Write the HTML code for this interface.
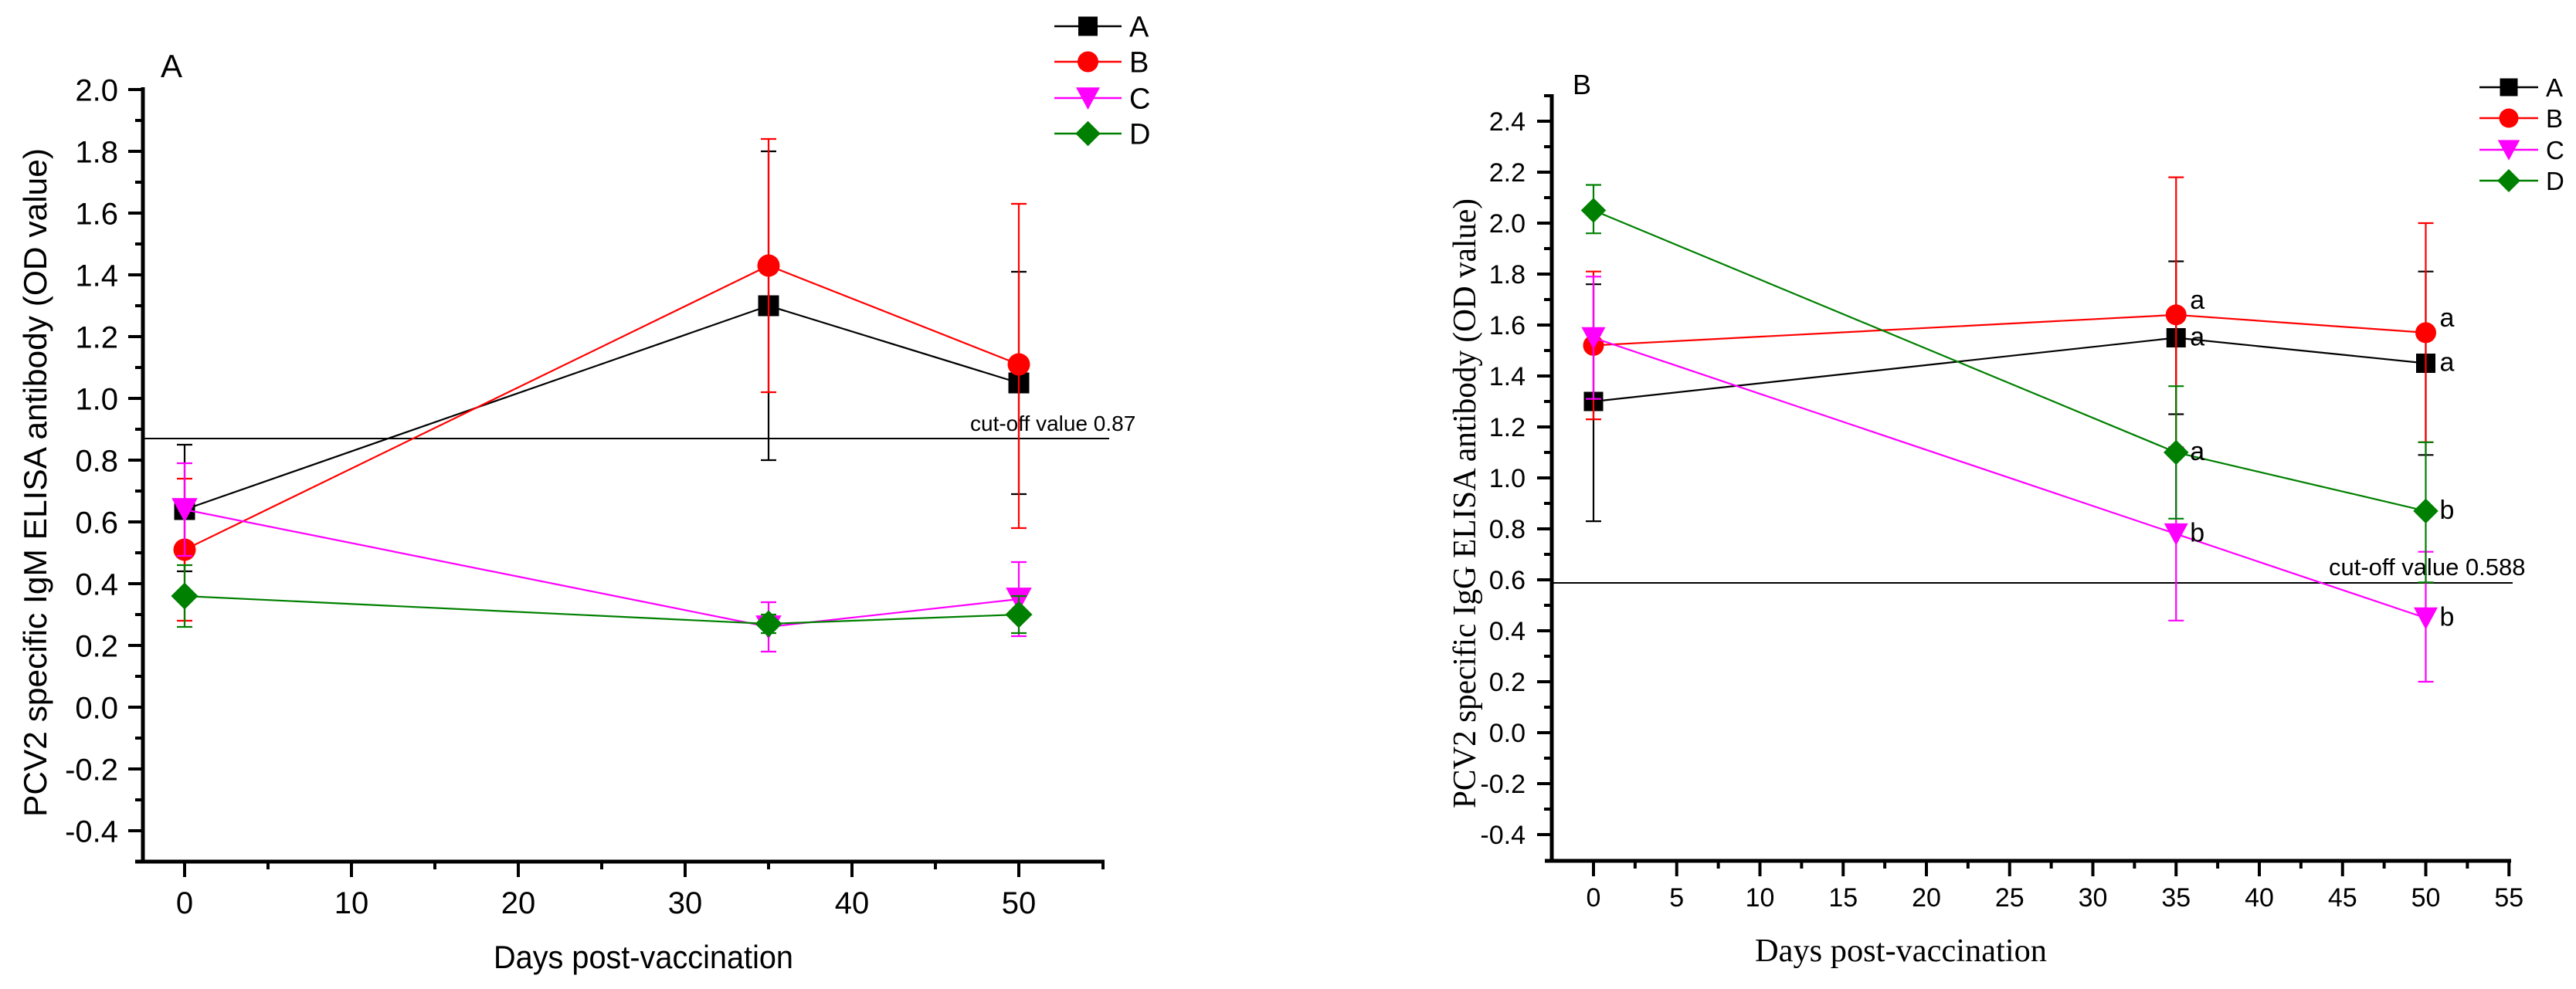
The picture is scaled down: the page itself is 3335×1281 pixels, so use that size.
<!DOCTYPE html>
<html><head><meta charset="utf-8"><style>
html,body{margin:0;padding:0;background:#fff;}
svg{display:block;}
</style></head><body>
<svg id="fig" width="3335" height="1281" viewBox="0 0 3335 1281" xmlns="http://www.w3.org/2000/svg">
<rect width="3335" height="1281" fill="#fff"/>
</svg>
<script>
// ---------- data ----------
const days = [0, 35, 50];
const groups = ["A", "B", "C", "D"];
const igmMean = [[0.64, 1.30, 1.05],[0.51, 1.43, 1.11],[0.64, 0.26, 0.35],[0.36, 0.27, 0.30]];
const igmHi   = [[0.85, 1.80, 1.41],[0.74, 1.84, 1.63],[0.79, 0.34, 0.47],[0.46, 0.30, 0.36]];
const igmLo   = [[0.44, 0.80, 0.69],[0.28, 1.02, 0.58],[0.49, 0.18, 0.23],[0.26, 0.24, 0.24]];
const iggMean = [[1.30, 1.55, 1.45],[1.52, 1.64, 1.57],[1.55, 0.78, 0.45],[2.05, 1.10, 0.87]];
const iggHi   = [[1.76, 1.85, 1.81],[1.81, 2.18, 2.00],[1.79, 1.12, 0.71],[2.15, 1.36, 1.14]];
const iggLo   = [[0.83, 1.25, 1.09],[1.23, 1.12, 1.14],[1.31, 0.44, 0.20],[1.96, 0.84, 0.59]];
const iggLetters = [["", "a", "a"],["", "a", "a"],["", "b", "b"],["", "a", "b"]];
const igmYTicks = ["2.0","1.8","1.6","1.4","1.2","1.0","0.8","0.6","0.4","0.2","0.0","-0.2","-0.4"];
const iggYTicks = ["2.4","2.2","2.0","1.8","1.6","1.4","1.2","1.0","0.8","0.6","0.4","0.2","0.0","-0.2","-0.4"];
const igmXTicks = [0, 10, 20, 30, 40, 50];
const iggXTicks = [0, 5, 10, 15, 20, 25, 30, 35, 40, 45, 50, 55];
const igmCutoff = 0.87;
const iggCutoff = 0.588;

const colors = ["#000000", "#ff0000", "#ff00ff", "#008000"];
const NS = "http://www.w3.org/2000/svg";
const svg = document.getElementById("fig");

function el(tag, attrs, parent) {
  const e = document.createElementNS(NS, tag);
  for (const k in attrs) e.setAttribute(k, attrs[k]);
  (parent || svg).appendChild(e);
  return e;
}
function marker(g, k, cx, cy, s) {
  let m;
  if (k === 0) m = el("rect", {x: cx - s/2, y: cy - s/2, width: s, height: s, fill: colors[0]}, g);
  else if (k === 1) m = el("circle", {cx: cx, cy: cy, r: s/2 + 1, fill: colors[1]}, g);
  else if (k === 2) m = el("polygon", {points: `${cx - s*0.62},${cy - s*0.55} ${cx + s*0.62},${cy - s*0.55} ${cx},${cy + s*0.6}`, fill: colors[2]}, g);
  else m = el("polygon", {points: `${cx},${cy - s*0.65} ${cx + s*0.65},${cy} ${cx},${cy + s*0.65} ${cx - s*0.65},${cy}`, fill: colors[3]}, g);
  return m;
}

function panel(cfg) {
  const g = el("g", {});
  
  
  const X = v => cfg.x0 + v * cfg.xPer;
  const Y = v => cfg.yBase - (v - cfg.yMin) / 0.2 * cfg.yStep;
  const yAxis = el("line", {x1: cfg.axX, y1: cfg.yTop, x2: cfg.axX, y2: cfg.axY + 2, stroke: "#000", "stroke-width": 5}, g);
  
  
  const xAxis = el("line", {x1: cfg.xStart, y1: cfg.axY, x2: cfg.xEnd + 2, y2: cfg.axY, stroke: "#000", "stroke-width": 5}, g);
  
  
  cfg.yTicks.forEach((t, i) => {
    const v = parseFloat(t);
    const y = Y(v);
    el("line", {x1: cfg.axX - 19, y1: y, x2: cfg.axX, y2: y, stroke: "#000", "stroke-width": 4}, g);
    const lab = el("text", {x: cfg.yLabX, y: y + cfg.yFont * 0.36, "text-anchor": "end", "font-size": cfg.yFont, "font-family": cfg.tickFam}, g);
    lab.textContent = t;
    
    
    if (i < cfg.yTicks.length - 1) {
      const ym = Y(v - 0.1);
      el("line", {x1: cfg.axX - 10, y1: ym, x2: cfg.axX, y2: ym, stroke: "#000", "stroke-width": 4}, g);
    }
  });
  if (cfg.yTopMinor) {
    const ym = Y(parseFloat(cfg.yTicks[0]) + 0.1);
    el("line", {x1: cfg.axX - 10, y1: ym, x2: cfg.axX, y2: ym, stroke: "#000", "stroke-width": 4}, g);
  }
  cfg.xTicks.forEach(t => {
    const x = X(t);
    el("line", {x1: x, y1: cfg.axY, x2: x, y2: cfg.axY + 20, stroke: "#000", "stroke-width": 4}, g);
    const lab = el("text", {x: x, y: cfg.xLabY, "text-anchor": "middle", "font-size": cfg.xFont, "font-family": cfg.tickFam}, g);
    lab.textContent = t;
    
    
  });
  cfg.xMinor.forEach(t => {
    const x = X(t);
    el("line", {x1: x, y1: cfg.axY, x2: x, y2: cfg.axY + 10, stroke: "#000", "stroke-width": 4}, g);
  });
  if (cfg.xEndTick) el("line", {x1: cfg.xEnd, y1: cfg.axY, x2: cfg.xEnd, y2: cfg.axY + 10, stroke: "#000", "stroke-width": 4}, g);
  const cy = Y(cfg.cutoff);
  const cl = el("line", {x1: cfg.axX, y1: cy, x2: cfg.cutEnd, y2: cy, stroke: "#000", "stroke-width": 2}, g);
  
  
  const ct = el("text", {x: cfg.cutLabX, y: cy - 10, "font-size": cfg.cutFont, "font-family": cfg.tickFam}, g);
  ct.textContent = "cut-off value " + cfg.cutoff;
  
  
  groups.forEach((gname, k) => {
    const sg = el("g", {}, g);
    
    
    const pts = days.map((d, i) => X(d) + "," + Y(cfg.mean[k][i])).join(" ");
    el("polyline", {points: pts, fill: "none", stroke: colors[k], "stroke-width": 2.2}, sg);
    days.forEach((d, i) => {
      const x = X(d);
      const yh = Y(cfg.hi[k][i]), yl = Y(cfg.lo[k][i]);
      const eb = el("path", {d: `M${x},${yh}V${yl}M${x-10},${yh}H${x+10}M${x-10},${yl}H${x+10}`, stroke: colors[k], "stroke-width": 2.2, fill: "none"}, sg);
      
      
    });
    days.forEach((d, i) => {
      const m = marker(sg, k, X(d), Y(cfg.mean[k][i]), cfg.ms);
      
      
      if (cfg.letters && cfg.letters[k][i]) {
        const lt = el("text", {x: X(d) + 18, y: Y(cfg.mean[k][i]) + (k === 1 ? -18 : 0) + 10, "font-size": 34, "font-family": cfg.tickFam}, sg);
        lt.textContent = cfg.letters[k][i];
        
        
      }
    });
  });
  const lg = el("g", {}, g);
  
  
  groups.forEach((gname, k) => {
    const y = cfg.legY[k];
    const eg = el("g", {}, lg);
    
    
    el("line", {x1: cfg.legX1, y1: y, x2: cfg.legX2, y2: y, stroke: colors[k], "stroke-width": 2.5}, eg);
    marker(eg, k, (cfg.legX1 + cfg.legX2) / 2, y, cfg.ms - 2);
    const t = el("text", {x: cfg.legX2 + 10, y: y + cfg.legFont * 0.36, "font-size": cfg.legFont, "font-family": cfg.tickFam}, eg);
    t.textContent = gname;
  });
  const pl = el("text", {x: cfg.plX, y: cfg.plY, "font-size": cfg.plFont, "font-family": "Liberation Sans, sans-serif"}, g);
  pl.textContent = cfg.panelLabel;
  
  
  const yt = el("text", {x: 0, y: 0, "text-anchor": "middle", "font-size": cfg.titleFont, "font-family": cfg.titleFam, textLength: cfg.yTitleLen, lengthAdjust: "spacingAndGlyphs", transform: `translate(${cfg.yTitleX},${cfg.yTitleY}) rotate(-90)`}, g);
  yt.textContent = cfg.yTitle;
  
  
  const xt = el("text", {x: cfg.xTitleX, y: cfg.xTitleY, "text-anchor": "middle", "font-size": cfg.titleFont, "font-family": cfg.titleFam, textLength: cfg.xTitleLen, lengthAdjust: "spacingAndGlyphs"}, g);
  xt.textContent = "Days post-vaccination";
  
  
}

panel({
  name: "panel-a-igm", panelLabel: "A", plX: 208, plY: 100, plFont: 42,
  x0: 239, xPer: 21.6, axX: 185, axY: 1116, xStart: 175, xEnd: 1428,
  yBase: 1076, yMin: -0.4, yStep: 80, yTop: 113,
  yTicks: igmYTicks, xTicks: igmXTicks, xMinor: [5, 15, 25, 35, 45], xEndTick: true,
  yLabX: 153, yFont: 40, xLabY: 1183, xFont: 40, tickFam: "Liberation Sans, sans-serif",
  mean: igmMean, hi: igmHi, lo: igmLo, letters: null, ms: 27,
  cutoff: igmCutoff, cutEnd: 1436, cutLabX: 1256, cutFont: 28,
  legX1: 1365, legX2: 1452, legY: [34, 80, 127, 173], legFont: 38,
  titleFam: "Liberation Sans, sans-serif", titleFont: 42,
  yTitle: "PCV2 specific IgM ELISA antibody (OD value)", yTitleX: 60, yTitleY: 625, yTitleLen: 866,
  xTitleX: 833, xTitleY: 1254, xTitleLen: 388
});

panel({
  name: "panel-b-igg", panelLabel: "B", plX: 2036, plY: 122, plFont: 36,
  x0: 2063, xPer: 21.55, axX: 2009, axY: 1115, xStart: 2000, xEnd: 3249,
  yBase: 1081, yMin: -0.4, yStep: 66, yTop: 122,
  yTicks: iggYTicks, xTicks: iggXTicks, xMinor: [2.5, 7.5, 12.5, 17.5, 22.5, 27.5, 32.5, 37.5, 42.5, 47.5, 52.5], xEndTick: false, yTopMinor: true,
  yLabX: 1975, yFont: 34, xLabY: 1174, xFont: 34, tickFam: "Liberation Sans Narrow, Liberation Sans, sans-serif",
  mean: iggMean, hi: iggHi, lo: iggLo, letters: iggLetters, ms: 25,
  cutoff: iggCutoff, cutEnd: 3253, cutLabX: 3015, cutFont: 31,
  legX1: 3210, legX2: 3286, legY: [113, 153, 194, 234], legFont: 33,
  titleFam: "Liberation Serif, serif", titleFont: 42,
  yTitle: "PCV2 specific IgG ELISA antibody (OD value)", yTitleX: 1910, yTitleY: 652, yTitleLen: 790,
  xTitleX: 2461, xTitleY: 1245, xTitleLen: 378
});
</script>
</body></html>
